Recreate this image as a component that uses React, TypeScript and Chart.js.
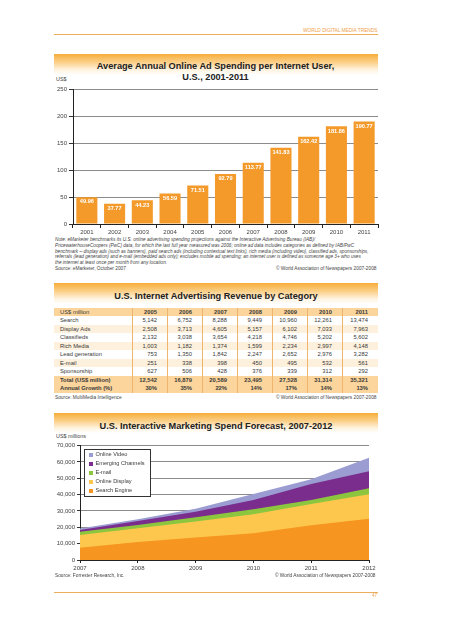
import React, { useEffect, useRef } from "react";
import { Chart, registerables } from "chart.js";
Chart.register(...registerables);

const FONT = "'Liberation Sans', Arial, Helvetica, sans-serif";
Chart.defaults.font.family = FONT;

// ---- Chart 1: average annual online ad spending per internet user ----
const barYears = ["2001", "2002", "2003", "2004", "2005", "2006", "2007", "2008", "2009", "2010", "2011"];
const barValues = [49.96, 37.77, 44.23, 56.59, 71.51, 92.79, 113.77, 141.83, 162.42, 181.86, 190.77];

const noteLines = [
  "Note: eMarketer benchmarks its U.S. online advertising spending projections against the Interactive Advertising Bureau (IAB)/",
  "PricewaterhouseCoopers (PwC) data, for which the last full year measured was 2006; online ad data includes categories as defined by IAB/PwC",
  "benchmark – display ads (such as banners), paid search ads (including contextual text links), rich media (including video), classified ads, sponsorships,",
  "referrals (lead generation) and e-mail (embedded ads only); excludes mobile ad spending; an internet user is defined as someone age 3+ who uses",
  "the internet at least once per month from any location.",
];

// ---- Table: U.S. internet advertising revenue by category ----
const tableYears = ["2005", "2006", "2007", "2008", "2009", "2010", "2011"];
const revSearch = [5142, 6752, 8288, 9449, 10960, 12261, 13474];
const revDisplay = [2508, 3713, 4605, 5157, 6102, 7033, 7963];
const revClassifieds = [2132, 3038, 3654, 4218, 4746, 5202, 5602];
const revRichMedia = [1003, 1182, 1374, 1599, 2234, 2997, 4148];
const revLeadGen = [753, 1350, 1842, 2247, 2652, 2976, 3282];
const revEmail = [251, 338, 398, 450, 495, 532, 561];
const revSponsorship = [627, 506, 428, 376, 339, 312, 292];
const revTotal = [12542, 16879, 20589, 23495, 27528, 31314, 35321];
const revGrowth = ["30%", "35%", "22%", "14%", "17%", "14%", "13%"];

// ---- Chart 3: interactive marketing spend forecast ----
const areaYears = ["2007", "2008", "2009", "2010", "2011", "2012"];
const searchEngine = [7500, 11000, 13700, 16300, 21200, 25300];
const onlineDisplay = [7800, 8400, 9800, 11700, 13100, 14900];
const emailMkt = [2000, 2000, 2600, 3000, 2400, 3700];
const emergingChannels = [1100, 2500, 3500, 5700, 9800, 10400];
const onlineVideo = [800, 1000, 1800, 3700, 2900, 8200];

const C_SEARCH = "#f6951f";
const C_DISPLAY = "#fdc74e";
const C_EMAIL = "#8cc63f";
const C_EMERGING = "#7a2d8c";
const C_VIDEO = "#9a9cd2";

const ORANGE_TEXT = "#f0a04a";
const TEXT = "#3a3a3a";

type TProps = {
  x: number; y: number; size: number; children: React.ReactNode;
  align?: "left" | "right" | "center"; bold?: boolean; italic?: boolean; color?: string;
};
function T({ x, y, size, children, align = "left", bold = false, italic = false, color = TEXT }: TProps) {
  const style: React.CSSProperties = {
    position: "absolute",
    top: y - size / 2,
    fontSize: size,
    lineHeight: `${size}px`,
    whiteSpace: "nowrap",
    fontWeight: bold ? "bold" : "normal",
    fontStyle: italic ? "italic" : "normal",
    color,
  };
  if (align === "left") style.left = x;
  else if (align === "right") style.right = 453 - x;
  else { style.left = x - 200; style.width = 400; style.textAlign = "center"; }
  return <div style={style}>{children}</div>;
}

function Band({ top, height }: { top: number; height: number }) {
  return (
    <div style={{
      position: "absolute", left: 54, top, width: 324, height,
      background: "linear-gradient(to bottom, #f7ad3a 0%, #fbd089 40%, #fff3df 75%, #ffffff 100%)",
    }} />
  );
}

function BarChart() {
  const ref = useRef<HTMLCanvasElement>(null);
  useEffect(() => {
    const labelPlugin = {
      id: "barLabels",
      afterDatasetsDraw(chart: any) {
        const ctx = chart.ctx;
        const meta = chart.getDatasetMeta(0);
        ctx.save();
        ctx.fillStyle = "#ffffff";
        ctx.font = `bold 5.6px ${FONT}`;
        ctx.textAlign = "center";
        ctx.textBaseline = "middle";
        meta.data.forEach((el: any, i: number) => {
          ctx.fillText(barValues[i].toFixed(2), el.x, el.y + 4.8);
        });
        ctx.restore();
      },
    };
    const chart = new Chart(ref.current as HTMLCanvasElement, {
      type: "bar",
      data: {
        labels: barYears,
        datasets: [{
          data: barValues, backgroundColor: "#f49a2b", borderWidth: 0,
          barPercentage: 0.76, categoryPercentage: 1,
        }],
      },
      options: {
        animation: false, responsive: false,
        layout: { padding: { top: 4, right: 2, left: 0, bottom: 0 } },
        plugins: { legend: { display: false }, tooltip: { enabled: false } },
        scales: {
          x: {
            grid: { offset: true, drawOnChartArea: false, tickLength: 4, color: "#222" },
            border: { color: "#222", width: 1 },
            ticks: { font: { size: 6 }, color: "#444", padding: 1, maxRotation: 0 },
            afterFit: (s: any) => { s.height = 12; },
          },
          y: {
            min: 0, max: 250,
            ticks: { stepSize: 50, font: { size: 6 }, color: "#444", padding: 2 },
            grid: { color: "#8c8c8c", tickColor: "#333", tickLength: 4, lineWidth: 1 },
            border: { color: "#222", width: 1 },
            afterFit: (s: any) => { s.width = 19; },
          },
        },
      } as any,
      plugins: [labelPlugin],
    });
    return () => chart.destroy();
  }, []);
  return <canvas ref={ref} width={326} height={152}
    style={{ position: "absolute", left: 54, top: 84, width: 326, height: 152 }} />;
}

function AreaChart() {
  const ref = useRef<HTMLCanvasElement>(null);
  useEffect(() => {
    const mk = (label: string, data: number[], color: string) => ({
      label, data, backgroundColor: color, borderColor: color, borderWidth: 0,
      pointRadius: 0, tension: 0, fill: "origin",
    });
    const chart = new Chart(ref.current as HTMLCanvasElement, {
      type: "line",
      data: {
        labels: areaYears,
        datasets: [
          mk("Search Engine", searchEngine, C_SEARCH),
          mk("Online Display", onlineDisplay, C_DISPLAY),
          mk("E-mail", emailMkt, C_EMAIL),
          mk("Emerging Channels", emergingChannels, C_EMERGING),
          mk("Online Video", onlineVideo, C_VIDEO),
        ],
      },
      options: {
        animation: false, responsive: false,
        layout: { padding: { top: 5.5, right: 11, left: 0, bottom: 0 } },
        plugins: { legend: { display: false }, tooltip: { enabled: false } },
        scales: {
          x: {
            offset: false,
            grid: { drawOnChartArea: false, tickLength: 3, color: "#222" },
            border: { color: "#222", width: 1 },
            ticks: { font: { size: 6 }, color: "#444", padding: 2, maxRotation: 0 },
            afterFit: (s: any) => { s.height = 16; },
          },
          y: {
            stacked: true, min: 0, max: 70000,
            ticks: {
              stepSize: 10000, font: { size: 6 }, color: "#444", padding: 2,
              callback: (v: any) => Number(v).toLocaleString("en-US"),
            },
            grid: { color: "#8c8c8c", tickColor: "#333", tickLength: 3, lineWidth: 1 },
            border: { color: "#222", width: 1 },
            afterFit: (s: any) => { s.width = 26; },
          },
        },
      } as any,
    });
    return () => chart.destroy();
  }, []);
  return <canvas ref={ref} width={326} height={136}
    style={{ position: "absolute", left: 54, top: 440, width: 326, height: 136 }} />;
}

const legendItems: [string, string][] = [
  ["Online Video", C_VIDEO],
  ["Emerging Channels", C_EMERGING],
  ["E-mail", C_EMAIL],
  ["Online Display", C_DISPLAY],
  ["Search Engine", C_SEARCH],
];

function Legend() {
  return (
    <div style={{
      position: "absolute", left: 84, top: 449, width: 67, height: 48,
      background: "#fff", border: "1px solid #333", boxSizing: "border-box",
    }}>
      {legendItems.map(([label, color], i) => (
        <div key={label} style={{ position: "absolute", left: 3.5, top: 2.5 + i * 9, height: 5, display: "flex", alignItems: "center" }}>
          <div style={{ width: 4, height: 4, background: color, marginRight: 3 }} />
          <div style={{ fontSize: 5.6, lineHeight: "5.6px", color: TEXT, whiteSpace: "nowrap" }}>{label}</div>
        </div>
      ))}
    </div>
  );
}

const fmt = (n: number) => n.toLocaleString("en-US");

function RevenueTable() {
  const rows: { label: string; cells: string[]; bg: string; bold: boolean }[] = [
    { label: "US$ million", cells: tableYears, bg: "#fbd59c", bold: false },
    { label: "Search", cells: revSearch.map(fmt), bg: "#ffffff", bold: false },
    { label: "Display Ads", cells: revDisplay.map(fmt), bg: "#fdf0dc", bold: false },
    { label: "Classifieds", cells: revClassifieds.map(fmt), bg: "#ffffff", bold: false },
    { label: "Rich Media", cells: revRichMedia.map(fmt), bg: "#fdf0dc", bold: false },
    { label: "Lead generation", cells: revLeadGen.map(fmt), bg: "#ffffff", bold: false },
    { label: "E-mail", cells: revEmail.map(fmt), bg: "#fdf0dc", bold: false },
    { label: "Sponsorship", cells: revSponsorship.map(fmt), bg: "#ffffff", bold: false },
    { label: "Total (US$ million)", cells: revTotal.map(fmt), bg: "#fbd59c", bold: true },
    { label: "Annual Growth (%)", cells: revGrowth, bg: "#fbd59c", bold: true },
  ];
  const colW = [78, 35, 35, 35, 35, 35, 35, 36];
  const rowH = 8.5;
  return (
    <div style={{ position: "absolute", left: 54, top: 307.7, width: 324 }}>
      {rows.map((r, ri) => (
        <div key={r.label} style={{ display: "flex", height: rowH, background: r.bg }}>
          {[r.label, ...r.cells].map((c, ci) => (
            <div key={ci} style={{
              width: colW[ci], boxSizing: "border-box", height: rowH,
              borderLeft: ci > 0 ? "1px solid #efb56c" : "none",
              textAlign: ci === 0 ? "left" : "right",
              paddingLeft: ci === 0 ? 6 : 0, paddingRight: ci === 0 ? 0 : 10,
              fontSize: 5.8, lineHeight: `${rowH}px`, color: TEXT, whiteSpace: "nowrap",
              fontWeight: r.bold || (ri === 0 && ci > 0) ? "bold" : "normal",
            }}>{c}</div>
          ))}
        </div>
      ))}
    </div>
  );
}

export default function App() {
  return (
    <div style={{ position: "absolute", left: 0, top: 0, width: 453, height: 640, background: "#fff", fontFamily: FONT, overflow: "hidden" }}>
      {/* page header */}
      <T x={377.5} y={31} size={4.8} align="right" color={ORANGE_TEXT}>WORLD DIGITAL MEDIA TRENDS</T>
      <div style={{ position: "absolute", left: 54, top: 33.5, width: 324, height: 1, background: "#ecae5c" }} />

      {/* chart 1 */}
      <Band top={54} height={21} />
      <T x={215.5} y={67} size={9.2} align="center" bold color="#222">Average Annual Online Ad Spending per Internet User,</T>
      <T x={215.5} y={77.8} size={9.2} align="center" bold color="#222">U.S., 2001-2011</T>
      <T x={56} y={79.5} size={5.4} color="#444">US$</T>
      <BarChart />
      {noteLines.map((l, i) => (
        <T key={i} x={55} y={240.8 + i * 5.65} size={4.7} italic color="#444">{l}</T>
      ))}
      <T x={55} y={269} size={4.8} color="#444">Source: eMarketer, October 2007</T>
      <T x={376.5} y={269} size={4.8} align="right" color="#444">© World Association of Newspapers 2007-2008</T>

      {/* table */}
      <Band top={283} height={21} />
      <T x={216} y={297} size={9.2} align="center" bold color="#222">U.S. Internet Advertising Revenue by Category</T>
      <RevenueTable />
      <T x={55} y={398.3} size={4.8} color="#444">Source: MultiMedia Intelligence</T>
      <T x={376.5} y={398.3} size={4.8} align="right" color="#444">© World Association of Newspapers 2007-2008</T>

      {/* chart 3 */}
      <Band top={413} height={20} />
      <T x={216} y={426.7} size={9.2} align="center" bold color="#222">U.S. Interactive Marketing Spend Forecast, 2007-2012</T>
      <T x={56} y={436.5} size={5.4} color="#444">US$ millions</T>
      <AreaChart />
      <Legend />
      <T x={55} y={576.7} size={4.8} color="#444">Source: Forrester Research, Inc.</T>
      <T x={375.5} y={576.7} size={4.8} align="right" color="#444">© World Association of Newspapers 2007-2008</T>

      {/* footer */}
      <div style={{ position: "absolute", left: 54, top: 592, width: 324, height: 1, background: "#ecae5c" }} />
      <T x={377} y={596.7} size={4.5} align="right" color={ORANGE_TEXT}>47</T>
    </div>
  );
}
